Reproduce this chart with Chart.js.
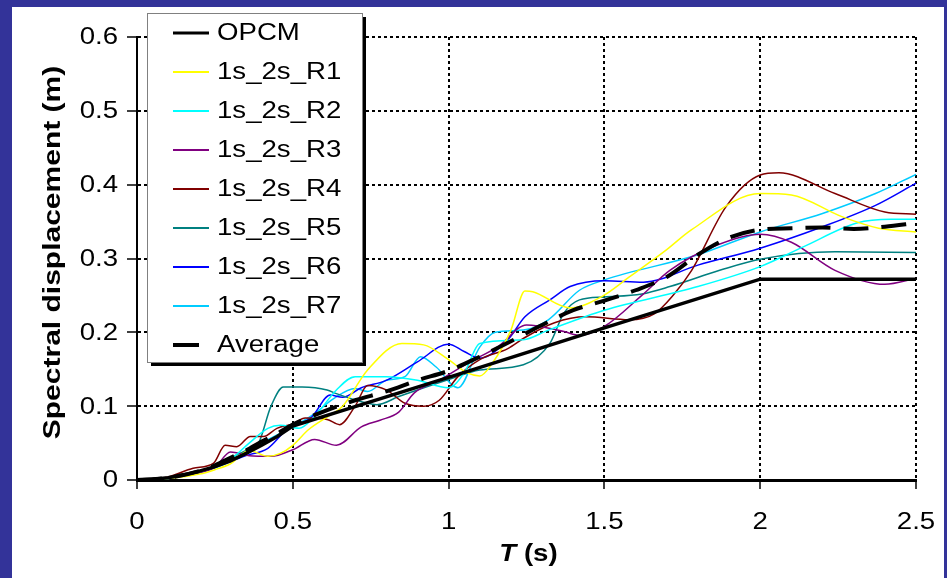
<!DOCTYPE html>
<html>
<head>
<meta charset="utf-8">
<script src="https://cdn.jsdelivr.net/npm/chart.js@4.4.1/dist/chart.umd.min.js"></script>
<style>
  html, body { margin: 0; padding: 0; background: #333399; }
  #frame { position: absolute; left: 12px; top: 7px; width: 932px; height: 571px; background: #fff; }
  canvas { display: block; }
</style>
</head>
<body>
<div id="frame"><canvas id="chart" width="932" height="571"></canvas></div>
<script>
// ===== data (period T in s, spectral displacement in m) =====
const xTickLabels = ["0", "0.5", "1", "1.5", "2", "2.5"];
const yTickLabels = ["0", "0.1", "0.2", "0.3", "0.4", "0.5", "0.6"];

const opcmT  = [0, 0.05, 0.1, 0.15, 0.2, 0.25, 0.3, 0.35, 0.4, 0.45, 0.5, 1.0, 1.5, 2.0, 2.5];
const opcmSd = [0, 0.001, 0.003, 0.007, 0.012, 0.018, 0.026, 0.036, 0.047, 0.059, 0.073, 0.139, 0.206, 0.272, 0.272];

const r1T  = [0, 0.1, 0.2, 0.25, 0.3, 0.36, 0.42, 0.46, 0.5, 0.55, 0.62, 0.66, 0.74, 0.85, 0.92, 1.0, 1.06, 1.1, 1.14, 1.2, 1.245, 1.27, 1.39, 1.49, 1.58, 1.7, 1.78, 2.0, 2.1, 2.26, 2.38, 2.5];
const r1Sd = [0, 0.002, 0.008, 0.014, 0.022, 0.04, 0.032, 0.036, 0.047, 0.068, 0.088, 0.1, 0.149, 0.185, 0.183, 0.163, 0.145, 0.141, 0.158, 0.203, 0.256, 0.255, 0.233, 0.248, 0.275, 0.312, 0.339, 0.388, 0.386, 0.357, 0.341, 0.336];

const r2T  = [0, 0.1, 0.2, 0.3, 0.36, 0.42, 0.46, 0.52, 0.57, 0.64, 0.7, 0.8, 0.9, 1.0, 1.05, 1.1, 1.24, 1.32, 1.5, 1.8, 2.0, 2.14, 2.31, 2.42, 2.5];
const r2Sd = [0, 0.002, 0.011, 0.028, 0.05, 0.07, 0.074, 0.07, 0.086, 0.122, 0.14, 0.14, 0.135, 0.125, 0.145, 0.185, 0.19, 0.203, 0.23, 0.262, 0.289, 0.316, 0.348, 0.353, 0.353];

const r3T  = [0, 0.1, 0.2, 0.25, 0.3, 0.36, 0.43, 0.5, 0.57, 0.64, 0.72, 0.78, 0.84, 0.89, 0.97, 1.06, 1.16, 1.25, 1.37, 1.42, 1.5, 1.62, 1.71, 1.86, 2.0, 2.1, 2.24, 2.4, 2.5];
const r3Sd = [0, 0.002, 0.01, 0.017, 0.038, 0.033, 0.032, 0.041, 0.055, 0.047, 0.072, 0.081, 0.092, 0.118, 0.135, 0.158, 0.181, 0.21, 0.201, 0.196, 0.208, 0.25, 0.284, 0.318, 0.333, 0.322, 0.284, 0.265, 0.273];

const r4T  = [0, 0.1, 0.18, 0.246, 0.283, 0.32, 0.364, 0.406, 0.449, 0.5, 0.54, 0.61, 0.65, 0.7, 0.74, 0.8, 0.86, 0.92, 0.97, 1.03, 1.1, 1.19, 1.245, 1.34, 1.44, 1.58, 1.66, 1.72, 1.78, 1.89, 2.0, 2.06, 2.24, 2.4, 2.5];
const r4Sd = [0, 0.004, 0.016, 0.023, 0.047, 0.045, 0.059, 0.059, 0.07, 0.076, 0.084, 0.082, 0.075, 0.1, 0.128, 0.122, 0.104, 0.1, 0.108, 0.14, 0.163, 0.178, 0.193, 0.213, 0.221, 0.217, 0.225, 0.25, 0.284, 0.37, 0.413, 0.416, 0.388, 0.363, 0.36];

const r5T  = [0, 0.1, 0.2, 0.25, 0.3, 0.35, 0.39, 0.43, 0.47, 0.53, 0.61, 0.64, 0.72, 0.77, 0.84, 1.0, 1.1, 1.24, 1.325, 1.37, 1.42, 1.5, 1.62, 1.71, 1.87, 2.0, 2.24, 2.5];
const r5Sd = [0, 0.002, 0.011, 0.019, 0.03, 0.04, 0.05, 0.1, 0.126, 0.126, 0.122, 0.117, 0.106, 0.102, 0.113, 0.136, 0.149, 0.156, 0.185, 0.226, 0.244, 0.248, 0.252, 0.262, 0.284, 0.299, 0.309, 0.308];

const r6T  = [0, 0.1, 0.2, 0.3, 0.35, 0.42, 0.48, 0.56, 0.62, 0.66, 0.72, 0.8, 0.9, 1.0, 1.05, 1.1, 1.19, 1.245, 1.325, 1.39, 1.5, 1.625, 1.8, 2.0, 2.2, 2.37, 2.5];
const r6Sd = [0, 0.002, 0.01, 0.025, 0.033, 0.043, 0.068, 0.085, 0.115, 0.112, 0.125, 0.135, 0.16, 0.184, 0.174, 0.165, 0.19, 0.221, 0.244, 0.262, 0.27, 0.268, 0.291, 0.314, 0.343, 0.372, 0.402];

const r7T  = [0, 0.1, 0.2, 0.3, 0.4, 0.5, 0.57, 0.63, 0.7, 0.74, 0.8, 0.86, 0.91, 0.96, 1.03, 1.1, 1.15, 1.24, 1.32, 1.42, 1.5, 1.8, 2.0, 2.2, 2.37, 2.5];
const r7Sd = [0, 0.002, 0.01, 0.025, 0.05, 0.072, 0.09, 0.11, 0.124, 0.12, 0.135, 0.14, 0.167, 0.153, 0.125, 0.18, 0.2, 0.203, 0.217, 0.257, 0.271, 0.305, 0.336, 0.361, 0.388, 0.414];

const avgT  = [0, 0.1, 0.2, 0.25, 0.3, 0.35, 0.4, 0.45, 0.5, 0.6, 0.7, 0.8, 0.9, 1.0, 1.1, 1.2, 1.3, 1.4, 1.5, 1.6, 1.7, 1.8, 1.9, 2.0, 2.1, 2.2, 2.3, 2.4, 2.5];
const avgSd = [0, 0.003, 0.012, 0.02, 0.03, 0.04, 0.052, 0.063, 0.075, 0.093, 0.108, 0.12, 0.135, 0.148, 0.167, 0.188, 0.21, 0.23, 0.243, 0.257, 0.275, 0.305, 0.328, 0.339, 0.341, 0.342, 0.340, 0.343, 0.348];

const pts = (t, sd) => t.map((x, i) => ({ x, y: sd[i] }));

const thin = (label, t, sd, color) => ({
  label,
  data: pts(t, sd),
  borderColor: color,
  borderWidth: 1.5,
  cubicInterpolationMode: "monotone",
});

const datasets = [
  { label: "OPCM", data: pts(opcmT, opcmSd), borderColor: "#000", borderWidth: 3.5, tension: 0, order: -2 },
  thin("1s_2s_R1", r1T, r1Sd, "#ffff00"),
  thin("1s_2s_R2", r2T, r2Sd, "#00ffff"),
  thin("1s_2s_R3", r3T, r3Sd, "#800080"),
  thin("1s_2s_R4", r4T, r4Sd, "#800000"),
  thin("1s_2s_R5", r5T, r5Sd, "#008080"),
  thin("1s_2s_R6", r6T, r6Sd, "#0000ff"),
  thin("1s_2s_R7", r7T, r7Sd, "#00ccff"),
  {
    label: "Average", data: pts(avgT, avgSd), borderColor: "#000", borderWidth: 4,
    borderDash: [25, 13], cubicInterpolationMode: "monotone", order: -1,
  },
];

// ===== text helpers (the original lettering is a bit wide) =====
const FONT = '"Liberation Sans", Arial, sans-serif';
const STRETCH = 1.2;

const wideText = (ctx, text, x, y, { size = 23, weight = "normal", style = "normal", align = "left", baseline = "middle", sx = STRETCH, rot = 0 } = {}) => {
  ctx.save();
  ctx.font = `${style} ${weight} ${size}px ${FONT}`;
  ctx.textAlign = align;
  ctx.textBaseline = baseline;
  ctx.fillStyle = "#000";
  ctx.translate(x, y);
  if (rot) ctx.rotate(rot);
  ctx.scale(sx, 1);
  ctx.fillText(text, 0, 0);
  ctx.restore();
};

const axisTextPlugin = {
  id: "axisText",
  afterDraw: (chart) => {
    const { ctx, chartArea, scales } = chart;
    yTickLabels.forEach((lab) => {
      wideText(ctx, lab, chartArea.left - 19, scales.y.getPixelForValue(parseFloat(lab)) + 1, { align: "right" });
    });
    xTickLabels.forEach((lab) => {
      wideText(ctx, lab, scales.x.getPixelForValue(parseFloat(lab)), chartArea.bottom + 43, { align: "center" });
    });

    // x title: "T (s)" with italic T
    ctx.save();
    ctx.font = `italic bold 23px ${FONT}`;
    const wT = ctx.measureText("T").width * STRETCH;
    ctx.font = `bold 23px ${FONT}`;
    const wS = ctx.measureText(" (s)").width * STRETCH;
    ctx.restore();
    const cx = (chartArea.left + chartArea.right) / 2 + 2;
    const x0 = cx - (wT + wS) / 2;
    wideText(ctx, "T", x0, chartArea.bottom + 75, { weight: "bold", style: "italic" });
    wideText(ctx, " (s)", x0 + wT, chartArea.bottom + 75, { weight: "bold" });

    // y title
    wideText(ctx, "Spectral displacement (m)", 48, (chartArea.top + chartArea.bottom) / 2 - 6, {
      size: 24, weight: "bold", align: "center", baseline: "alphabetic", sx: 1.25, rot: -Math.PI / 2,
    });
  },
};

const legendPlugin = {
  id: "boxLegend",
  afterDraw: (chart) => {
    const { ctx } = chart;
    const box = { x: 135, y: 6, w: 215, h: 349 };
    ctx.save();
    ctx.fillStyle = "#000";
    ctx.fillRect(box.x + 4, box.y + 4, box.w, box.h);
    ctx.fillStyle = "#fff";
    ctx.fillRect(box.x, box.y, box.w, box.h);
    ctx.strokeStyle = "#808080";
    ctx.lineWidth = 1;
    ctx.strokeRect(box.x + 0.5, box.y + 0.5, box.w, box.h);

    chart.data.datasets.forEach((ds, i) => {
      const y = 26 + 39 * i;
      const isAvg = ds.label === "Average";
      ctx.beginPath();
      ctx.strokeStyle = ds.borderColor;
      ctx.lineWidth = ds.borderWidth > 2 ? (isAvg ? 4 : 3) : 2;
      ctx.moveTo(161, y);
      ctx.lineTo(isAvg ? 187 : 197, y);
      ctx.stroke();
      wideText(ctx, ds.label, 205, y + 1);
    });
    ctx.restore();
  },
};

const gridCommon = {
  color: "#000",
  lineWidth: 2,
  tickColor: "#000",
  tickWidth: 1.5,
};

new Chart(document.getElementById("chart").getContext("2d"), {
  type: "line",
  data: { datasets },
  options: {
    responsive: false,
    animation: false,
    devicePixelRatio: 1,
    layout: { padding: { top: 30, right: 28, left: 0, bottom: 0 } },
    elements: { point: { radius: 0 } },
    plugins: { legend: { display: false }, tooltip: { enabled: false } },
    scales: {
      x: {
        type: "linear",
        min: 0,
        max: 2.5,
        ticks: { stepSize: 0.5, display: false },
        grid: { ...gridCommon, tickLength: 9 },
        border: { color: "#000", width: 3, dash: [3, 3] },
        afterFit: (s) => { s.height = 98; },
      },
      y: {
        min: 0,
        max: 0.6,
        ticks: { stepSize: 0.1, display: false },
        grid: { ...gridCommon, tickLength: 10 },
        border: { color: "#000", width: 2, dash: [3, 3] },
        afterFit: (s) => { s.width = 125; },
      },
    },
  },
  plugins: [axisTextPlugin, legendPlugin],
});
</script>
</body>
</html>
